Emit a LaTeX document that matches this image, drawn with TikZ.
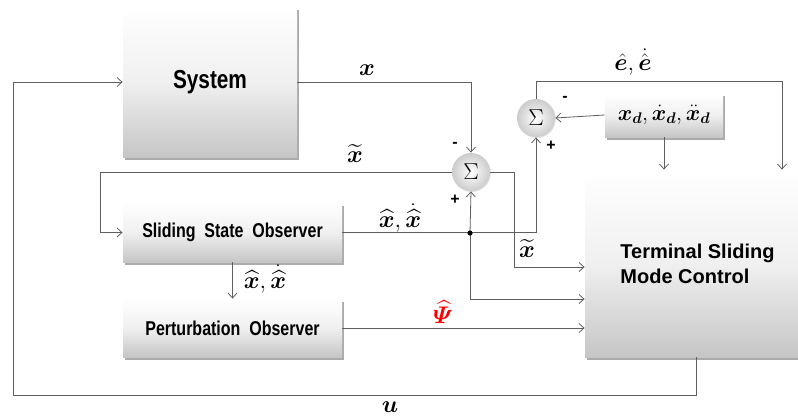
\RequirePackage{fix-cm}
\documentclass[tikz,border=0pt]{standalone}
\usepackage{amsmath}
\usepackage{bm}
\usepackage{fontspec}
\setsansfont{Liberation Sans}
\newfontfamily\narrowsf[FakeStretch=0.8]{Liberation Sans}
\usetikzlibrary{shadows,arrows.meta}
\definecolor{wire}{RGB}{95,95,95}

\begin{document}
\begin{tikzpicture}[>={Straight Barb[length=5pt,width=9pt]},x=1pt,y=-1pt,line width=0.8pt,
  block/.style={rectangle,top color=white,bottom color=gray!45,middle color=gray!12,
    drop shadow={shadow xshift=1.5pt,shadow yshift=-2.5pt,fill=black!55,opacity=.6},
    inner sep=0pt,font=\narrowsf\bfseries},
  sumnode/.style={circle,inner color=white,outer color=gray!40,minimum size=38pt,inner sep=0pt,
    drop shadow={shadow xshift=0.8pt,shadow yshift=-1pt,fill=black!30,opacity=.4},
    font=\fontsize{23}{26}\selectfont},
  lbl/.style={font=\fontsize{24}{28}\selectfont},
  sgn/.style={font=\sffamily\bfseries\fontsize{16}{18}\selectfont}]

\useasboundingbox (0,0) rectangle (798,418);

% ---- Blocks ----
\node[block,minimum width=174pt,minimum height=150pt,font=\narrowsf\bfseries\fontsize{26}{30}\selectfont] (sys) at (210,82) {System};
\node[block,minimum width=219pt,minimum height=59pt,font=\narrowsf\bfseries\fontsize{20}{24}\selectfont] (sso) at (232.5,232.5) {Sliding\ \ State\ \ Observer};
\node[block,minimum width=219pt,minimum height=58pt,font=\narrowsf\bfseries\fontsize{20}{24}\selectfont] (po) at (232.5,328) {Perturbation\ \ Observer};
\node[block,minimum width=118pt,minimum height=44pt] (xd) at (664,115) {\fontsize{22}{26}\selectfont$\bm{x}_{\bm d},\dot{\bm{x}}_{\bm d},\ddot{\bm{x}}_{\bm d}$};
\node[block,minimum width=225pt,minimum height=187pt,align=left,font=\sffamily\bfseries\fontsize{20}{25}\selectfont] (tsmc) at (697.5,263.5) {Terminal Sliding\\Mode Control};

% ---- Summing junctions ----
\node[sumnode] (s1) at (471,172) {$\Sigma$};
\node[sumnode] (s2) at (536,118) {$\Sigma$};

% corners of the wires
\coordinate (jn) at (470,233);
\coordinate (rt) at (514,172);
\coordinate (lt) at (100,172);
\coordinate (in1) at (0,267);
\coordinate (in2) at (0,299);
\coordinate (etop) at (782,81);
\coordinate (ur) at (696,395);
\coordinate (ul) at (13,395);

% ---- Wires ----
\begin{scope}[draw=wire]
\draw[->] (sys.east) -| (s1.north);
\draw[->] (s1.west) -- (lt) |- (sso.west);
\draw[->] (s1.east) -- (rt) |- (tsmc.west |- in1);
\draw[->] (sso.east) -| (s2.south);
\draw[->] (jn) -- (s1.south);
\draw[->] (jn) |- (tsmc.west |- in2);
\draw[->] (sso.south) -- (po.north);
\draw[->] (po.east) -- (tsmc.west |- po.east);
\draw[->] (xd.west) -- (s2.east);
\draw[->] (xd.south) -- (xd.south |- tsmc.north);
\draw[->] (s2.north) |- (etop) -- (etop |- tsmc.north);
\draw[->] (tsmc.south -| ur) -- (ur) -- (ul) |- (sys.west);
\end{scope}
\fill (jn) circle (2.6);

% ---- Signal labels ----
\node[lbl] (lx) at (367,70) {$\bm{x}$};
\node[lbl] (lxt1) at (355,154) {$\widetilde{\bm{x}}$};
\node[lbl] (lxh1) at (400,218) {$\widehat{\bm{x}},\dot{\widehat{\bm{x}}}$};
\node[lbl] (lxh2) at (265,279) {$\widehat{\bm{x}},\dot{\widehat{\bm{x}}}$};
\node[lbl] (lxt2) at (527,249) {$\widetilde{\bm{x}}$};
\node[lbl,text=red] (lpsi) at (443,312) {$\widehat{\bm{\varPsi}}$};
\node[lbl] (le) at (633,62) {$\hat{\bm{e}},\dot{\hat{\bm{e}}}$};
\node[lbl] (lu) at (390,407) {$\bm{u}$};

% signs
\node[sgn] (m1) at (455,145) {-};
\node[sgn] (p1) at (455,200) {+};
\node[sgn] (m2) at (565,99) {-};
\node[sgn] (p2) at (551,146) {+};

\end{tikzpicture}
\end{document}
